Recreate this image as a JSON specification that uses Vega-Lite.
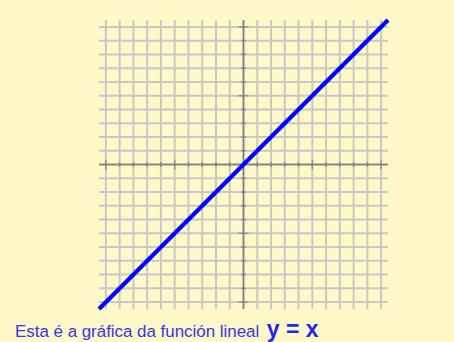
{
  "$schema": "https://vega.github.io/schema/vega-lite/v6.json",
  "width": 289,
  "height": 289,
  "autosize": {"type": "none"},
  "padding": {"left": 99, "top": 20, "right": 66, "bottom": 33},
  "background": "#FFF8C8",
  "config": {
    "view": {"stroke": null},
    "font": "Liberation Sans",
    "axis": {"grid": false, "labels": false, "ticks": false, "domain": false, "title": null}
  },
  "datasets": {
    "line": [{"x": -10.5, "y": -10.5}, {"x": 10.5, "y": 10.5}],
    "one": [{}],
    "grid": [
      {"v": -10}, {"v": -9}, {"v": -8}, {"v": -7}, {"v": -6}, {"v": -5}, {"v": -4},
      {"v": -3}, {"v": -2}, {"v": -1}, {"v": 0}, {"v": 1}, {"v": 2}, {"v": 3}, {"v": 4},
      {"v": 5}, {"v": 6}, {"v": 7}, {"v": 8}, {"v": 9}, {"v": 10}
    ]
  },
  "layer": [
    {
      "data": {"name": "grid"},
      "mark": {"type": "rule", "color": "#C8C8C4", "strokeWidth": 2},
      "encoding": {
        "x": {
          "field": "v", "type": "quantitative",
          "scale": {"domain": [-10.5, 10.5], "nice": false, "zero": false}
        }
      }
    },
    {
      "data": {"name": "grid"},
      "mark": {"type": "rule", "color": "#C8C8C4", "strokeWidth": 2},
      "encoding": {
        "y": {
          "field": "v", "type": "quantitative",
          "scale": {"domain": [-10.5, 10.5], "nice": false, "zero": false}
        }
      }
    },
    {
      "data": {"name": "one"},
      "mark": {"type": "rule", "color": "#7C7C70", "strokeWidth": 1.5},
      "encoding": {"x": {"datum": 0, "type": "quantitative"}}
    },
    {
      "data": {"name": "one"},
      "mark": {"type": "rule", "color": "#7C7C70", "strokeWidth": 1.5},
      "encoding": {"y": {"datum": 0, "type": "quantitative"}}
    },
    {
      "data": {"name": "grid"},
      "transform": [{"filter": "datum.v != 0"}],
      "mark": {"type": "tick", "orient": "vertical", "color": "#7C7C70", "thickness": 1.5},
      "encoding": {
        "x": {"field": "v", "type": "quantitative"},
        "y": {"datum": 0, "type": "quantitative"},
        "size": {"condition": {"test": "datum.v % 5 == 0", "value": 10}, "value": 5}
      }
    },
    {
      "data": {"name": "grid"},
      "transform": [{"filter": "datum.v != 0"}],
      "mark": {"type": "tick", "orient": "horizontal", "color": "#7C7C70", "thickness": 1.5},
      "encoding": {
        "y": {"field": "v", "type": "quantitative"},
        "x": {"datum": 0, "type": "quantitative"},
        "size": {"condition": {"test": "datum.v % 5 == 0", "value": 10}, "value": 5}
      }
    },
    {
      "data": {"name": "line"},
      "mark": {"type": "line", "color": "#0000FF", "strokeWidth": 4.2, "strokeCap": "butt"},
      "encoding": {
        "x": {"field": "x", "type": "quantitative"},
        "y": {"field": "y", "type": "quantitative"}
      }
    },
    {
      "data": {"name": "one"},
      "mark": {
        "type": "text", "text": "Esta é a gráfica da función lineal",
        "align": "left", "baseline": "alphabetic",
        "fontSize": 16.9, "color": "#3434F2", "font": "Liberation Sans"
      },
      "encoding": {
        "x": {"datum": -16.6, "type": "quantitative"},
        "y": {"datum": -12.51, "type": "quantitative"}
      }
    },
    {
      "data": {"name": "one"},
      "mark": {
        "type": "text", "text": "y = x",
        "align": "left", "baseline": "alphabetic",
        "fontSize": 23, "fontWeight": "bold", "color": "#2626E6", "font": "Liberation Sans"
      },
      "encoding": {
        "x": {"datum": 1.69, "type": "quantitative"},
        "y": {"datum": -12.51, "type": "quantitative"}
      }
    }
  ]
}
